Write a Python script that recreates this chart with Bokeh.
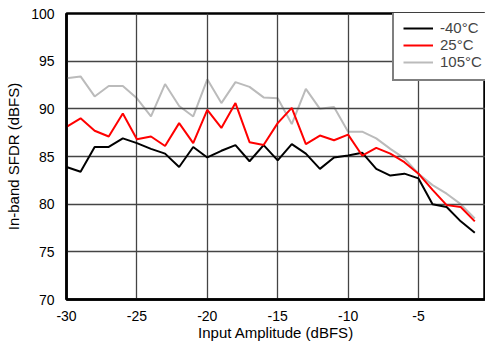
from bokeh.plotting import figure
from bokeh.models import Range1d, FixedTicker, Legend, LegendItem
from bokeh.embed import file_html
from bokeh.resources import INLINE

amplitude = list(range(-30, 0))
sfdr_m40 = [83.9, 83.4, 86.0, 86.0, 86.9, 86.4, 85.8, 85.3, 83.9, 86.0,
            84.9, 85.6, 86.2, 84.5, 86.2, 84.6, 86.3, 85.3, 83.7, 84.9,
            85.1, 85.4, 83.7, 83.0, 83.2, 82.7, 80.0, 79.7, 78.2, 77.0]
sfdr_25 = [88.1, 89.0, 87.7, 87.1, 89.5, 86.8, 87.1, 86.1, 88.5, 86.4,
           89.9, 88.0, 90.6, 86.5, 86.2, 88.5, 90.1, 86.3, 87.2, 86.7,
           87.3, 85.1, 85.9, 85.3, 84.4, 83.2, 81.5, 79.9, 79.7, 78.2]
sfdr_105 = [93.2, 93.4, 91.3, 92.4, 92.4, 91.1, 89.2, 92.6, 90.3, 89.2,
            93.1, 90.6, 92.8, 92.3, 91.2, 91.1, 88.4, 92.1, 90.0, 90.2,
            87.6, 87.6, 86.9, 85.8, 84.8, 83.2, 82.0, 81.1, 80.0, 78.5]
series_labels = ["-40°C", "25°C", "105°C"]
series_colors = ["black", "#ff0000", "#bbbbbb"]
x_ticks = [-30, -25, -20, -15, -10, -5, 0]
y_ticks = [70, 75, 80, 85, 90, 95, 100]

FONT = "Liberation Sans"

p = figure(width=485, height=344, output_backend="svg", toolbar_location=None,
           x_range=Range1d(-30, -0.24), y_range=Range1d(70, 100))
p.min_border_left = 66
p.min_border_top = 13
p.min_border_right = 0
p.min_border_bottom = 45

renderers = []
for ys, col in zip([sfdr_m40, sfdr_25, sfdr_105], series_colors):
    r = p.line(amplitude, ys, line_color=col, line_width=2)
    renderers.append(r)
renderers[2].level = "underlay"

p.outline_line_color = "black"
p.outline_line_width = 2.5

for ax in (p.xaxis[0], p.yaxis[0]):
    ax.axis_line_color = "black"
    ax.axis_line_width = 2.5
    ax.major_tick_line_color = None
    ax.minor_tick_line_color = None
    ax.major_label_text_font = FONT
    ax.major_label_text_font_size = "14px"
    ax.major_label_text_color = "black"
    ax.axis_label_text_font = FONT
    ax.axis_label_text_font_size = "15px"
    ax.axis_label_text_font_style = "normal"
    ax.axis_label_text_color = "black"

p.xaxis.ticker = FixedTicker(ticks=x_ticks)
p.yaxis.ticker = FixedTicker(ticks=y_ticks)
p.xaxis.major_label_overrides = {t: str(t) for t in x_ticks}
p.yaxis.major_label_overrides = {t: str(t) for t in y_ticks}
p.xaxis.axis_label = "Input Amplitude (dBFS)"
p.yaxis.axis_label = "In-band SFDR (dBFS)"
p.xaxis.major_label_standoff = 5
p.yaxis.major_label_standoff = 6
p.xaxis.axis_label_standoff = 0
p.yaxis.axis_label_standoff = 6

for g in (p.xgrid[0], p.ygrid[0]):
    g.grid_line_color = "#444444"
    g.grid_line_width = 1.3

legend = Legend(items=[LegendItem(label=l, renderers=[r]) for l, r in zip(series_labels, renderers)],
                location=(326, 218))
legend.border_line_color = "black"
legend.border_line_width = 2
legend.background_fill_alpha = 1
legend.label_text_font = FONT
legend.label_text_font_size = "15px"
legend.glyph_width = 30
legend.glyph_height = 16
legend.label_height = 16
legend.label_width = 52
legend.spacing = 0
legend.padding = 9
legend.margin = 0
legend.label_standoff = 7
p.add_layout(legend)

open("out.html", "w").write(file_html(p, INLINE))
